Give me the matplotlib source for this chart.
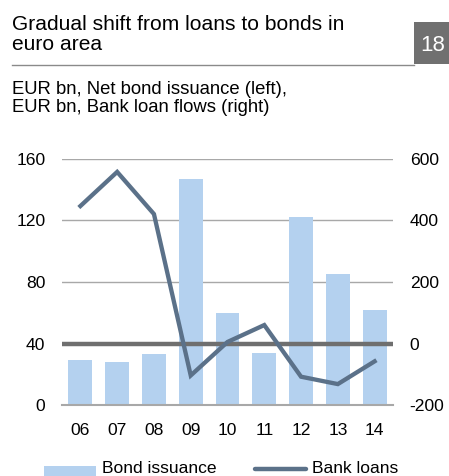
import matplotlib
matplotlib.use("Agg")
import matplotlib.pyplot as plt
from matplotlib.patches import Rectangle
from matplotlib.lines import Line2D

plt.rcParams['font.family'] = ['Liberation Sans', 'DejaVu Sans']
plt.rcParams['axes.unicode_minus'] = False

years = ["06", "07", "08", "09", "10", "11", "12", "13", "14"]
bond_issuance = [29, 28, 33, 147, 60, 34, 122, 85, 62]
bank_loans = [447, 558, 421, -104, 5, 60, -108, -132, -58]

left_ticks = [0, 40, 80, 120, 160]
right_ticks = [-200, 0, 200, 400, 600]

bar_color = "#b4d1ef"
line_color = "#5b7189"
zero_color = "#6f6f6f"
grid_color = "#a8a8a8"

W, H = 449, 476
fig = plt.figure(figsize=(W / 100, H / 100), dpi=100)


def fy(py):
    return 1 - py / H


# Title block
fig.text(12 / W, fy(30), "Gradual shift from loans to bonds in",
         fontsize=15.1, va="baseline", ha="left")
fig.text(12 / W, fy(50), "euro area", fontsize=15.1, va="baseline", ha="left")
fig.add_artist(Line2D([12 / W, 414 / W], [fy(64.5), fy(64.5)],
                      transform=fig.transFigure, color="#8a8a8a", lw=1))
fig.add_artist(Rectangle((414 / W, fy(64)), 35 / W, 42 / H,
                         transform=fig.transFigure, color="#707070", lw=0))
fig.text(433 / W, fy(51), "18", fontsize=16, color="white",
         ha="center", va="baseline")

fig.text(12 / W, fy(94), "EUR bn, Net bond issuance (left),",
         fontsize=13.3, va="baseline", ha="left")
fig.text(12 / W, fy(112), "EUR bn, Bank loan flows (right)",
         fontsize=13.3, va="baseline", ha="left")

ax_left, ax_right, ax_top, ax_bot = 62, 393, 159, 405
ax = fig.add_axes([ax_left / W, fy(ax_bot), (ax_right - ax_left) / W, (ax_bot - ax_top) / H])
x = list(range(len(years)))
ax.bar(x, bond_issuance, width=0.65, color=bar_color, zorder=2)
ax.set_ylim(0, 160)
ax.set_xlim(-0.5, len(years) - 0.5)
ax.set_yticks(left_ticks)
ax.set_xticks(x)
ax.set_xticklabels(years)
for t in left_ticks[1:]:
    ax.axhline(t, color=grid_color, lw=1, zorder=1)
for s in ["top", "right", "left"]:
    ax.spines[s].set_visible(False)
ax.spines["bottom"].set_color(grid_color)
ax.spines["bottom"].set_linewidth(1.5)
ax.tick_params(axis="both", length=0, labelsize=12.6)
ax.tick_params(axis="x", pad=13)
ax.tick_params(axis="y", pad=12)

ax2 = ax.twinx()
ax2.set_ylim(-200, 600)
ax2.set_yticks(right_ticks)
ax2.axhline(0, color=zero_color, lw=3.2, zorder=3)
ax2.plot(x, bank_loans, color=line_color, lw=3.1, zorder=4, solid_joinstyle="miter")
for s in ax2.spines.values():
    s.set_visible(False)
ax2.tick_params(axis="y", length=0, labelsize=12.6, pad=12)

# Legend
fig.add_artist(Rectangle((44 / W, fy(477)), 52 / W, 11 / H,
                         transform=fig.transFigure, color=bar_color, lw=0))
fig.text(102 / W, fy(473), "Bond issuance", fontsize=12.6, va="baseline", ha="left")
fig.add_artist(Line2D([255 / W, 306 / W], [fy(469), fy(469)],
                      transform=fig.transFigure, color=line_color, lw=3.2,
                      solid_capstyle="round"))
fig.text(312 / W, fy(473), "Bank loans", fontsize=12.6, va="baseline", ha="left")

fig.savefig("out.png", dpi=100)
